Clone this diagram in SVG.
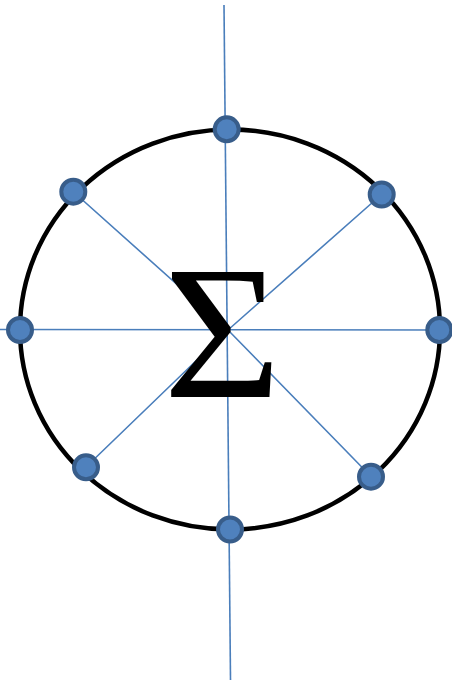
<svg xmlns="http://www.w3.org/2000/svg" width="452" height="683" viewBox="0 0 452 683">
<style>
.ln{stroke:#4a7ebb;stroke-width:1.6;fill:none}
.dot{fill:#4f81bd;stroke:#385d8a;stroke-width:4}
.sig{font-family:"Liberation Serif","Times New Roman",serif;font-size:190px;fill:#000}
</style>
<rect width="452" height="683" fill="#fff"/>
<g id="ring"><ellipse cx="230" cy="329.5" rx="210" ry="200" fill="none" stroke="#000" stroke-width="4.5"/></g>
<g id="connectors">
<line class="ln" x1="224" y1="5" x2="230.5" y2="680"/>
<line class="ln" x1="0" y1="329.5" x2="439" y2="330"/>
<polyline class="ln" points="73,191.5 228,330 371,476.5"/>
<polyline class="ln" points="381.5,194.5 228,330 86,467"/>
</g>
<g id="sigma"><text class="sig" x="0" y="0" text-anchor="middle" transform="translate(222.5,397) scale(1.07,1)">Σ</text></g>
<g id="dots">
<circle class="dot" cx="226.7" cy="129.3" r="12"/>
<circle class="dot" cx="381.7" cy="194.5" r="12"/>
<circle class="dot" cx="439.3" cy="330" r="12"/>
<circle class="dot" cx="371" cy="476.7" r="12"/>
<circle class="dot" cx="230" cy="529.5" r="12"/>
<circle class="dot" cx="86" cy="467.3" r="12"/>
<circle class="dot" cx="20" cy="330" r="12"/>
<circle class="dot" cx="73.3" cy="191.7" r="12"/>
</g>
</svg>
